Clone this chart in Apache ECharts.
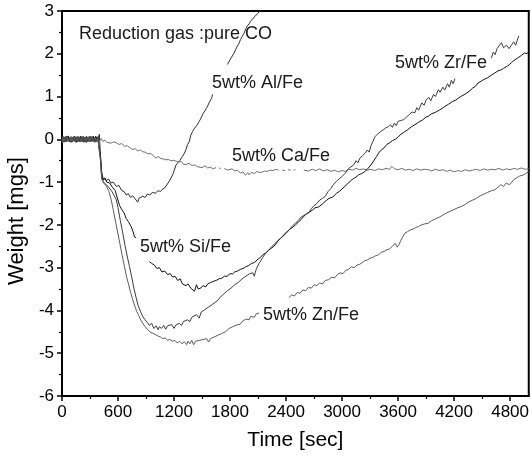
<!DOCTYPE html>
<html>
<head>
<meta charset="utf-8">
<script src="https://cdn.jsdelivr.net/npm/echarts@6/dist/echarts.min.js"></script>
<style>
  html, body { margin: 0; padding: 0; background: #fff; }
  #chart { width: 532px; height: 460px; }
</style>
</head>
<body>
<div id="chart"></div>
<script>
// Tick positions on the time axis (sec)
const xMajorTicks = [0, 600, 1200, 1800, 2400, 3000, 3600, 4200, 4800];
const xMinorTicks = [300, 900, 1500, 2100, 2700, 3300, 3900, 4500];

// Weight change [mgs] versus time [sec]; null marks a break in the trace
const alFe = [[0,0.01],[8,0.08],[15,-0.04],[22,0.03],[30,0.05],[37,-0.06],[45,-0.02],[52,0.07],[60,0.06],[67,-0.03],[75,-0.05],[82,0.04],[90,0.03],[97,-0.07],[105,-0.06],[112,0.05],[120,0.02],[127,-0.04],[135,0.07],[142,0.0],[150,-0.03],[157,0.06],[165,0.04],[172,-0.05],[180,-0.07],[187,0.03],[195,0.01],[202,-0.06],[210,0.05],[217,0.08],[225,-0.04],[232,0.02],[240,0.03],[247,-0.07],[255,-0.05],[262,0.04],[270,0.06],[277,-0.03],[285,-0.02],[292,0.07],[300,0.04],[307,-0.05],[315,-0.06],[322,0.05],[330,0.02],[337,-0.04],[345,0.05],[352,-0.07],[360,-0.03],[367,0.06],[375,0.06],[382,-0.04],[390,0.02],[400,0.12],[410,-0.3],[425,-0.75],[438,-0.9],[455,-0.88],[474,-0.96],[500,-0.93],[525,-1.02],[550,-1.0],[581,-1.1],[610,-1.08],[640,-1.2],[665,-1.22],[687,-1.3],[710,-1.27],[735,-1.36],[758,-1.32],[780,-1.38],[800,-1.36],[811,-1.47],[825,-1.38],[845,-1.4],[865,-1.33],[890,-1.36],[915,-1.28],[940,-1.3],[971,-1.24],[1000,-1.26],[1030,-1.2],[1055,-1.22],[1078,-1.16],[1100,-1.14],[1120,-1.1],[1149,-0.98],[1165,-1.0],[1185,-0.83],[1200,-0.74],[1221,-0.6],[1240,-0.56],[1260,-0.5],[1274,-0.51],[1290,-0.4],[1310,-0.33],[1328,-0.24],[1345,-0.12],[1365,-0.05],[1380,0.1],[1398,0.18],[1420,0.26],[1445,0.33],[1470,0.42],[1490,0.5],[1510,0.6],[1530,0.66],[1545,0.72],[1560,0.78],[1575,0.85],[1594,0.93],[1605,0.98],[1612,1.05],[1620,null],[1772,1.75],[1790,1.82],[1800,1.78],[1810,1.9],[1825,1.94],[1845,2.02],[1860,2.1],[1878,2.18],[1895,2.24],[1912,2.33],[1932,2.41],[1950,2.48],[1968,2.58],[1985,2.65],[2005,2.7],[2020,2.76],[2038,2.8],[2060,2.86],[2080,2.9],[2095,2.94],[2110,2.97],[2130,3.02],[2150,3.08]];

const caFe = [[0,-0.02],[8,-0.08],[15,0.04],[22,-0.03],[30,-0.05],[37,0.06],[45,0.03],[52,-0.06],[60,-0.01],[67,0.05],[75,0.06],[82,-0.04],[90,-0.04],[97,0.07],[105,0.02],[112,-0.05],[120,-0.06],[127,0.04],[135,0.05],[142,-0.07],[150,0.01],[157,0.06],[165,-0.05],[172,0.02],[180,0.04],[187,-0.06],[195,-0.02],[202,0.07],[210,0.06],[217,-0.03],[225,-0.04],[232,0.05],[240,0.02],[247,-0.06],[255,0.05],[262,0.01],[270,-0.06],[277,0.06],[285,0.03],[292,-0.05],[300,-0.02],[307,0.07],[315,0.05],[322,-0.04],[330,-0.04],[337,0.05],[345,0.02],[352,-0.07],[360,-0.05],[367,0.04],[375,0.04],[382,-0.03],[390,0.0],[405,-0.04],[420,0.02],[438,-0.05],[460,-0.02],[480,-0.07],[500,-0.04],[525,-0.09],[550,-0.06],[581,-0.08],[610,-0.12],[640,-0.1],[670,-0.16],[700,-0.15],[730,-0.2],[758,-0.24],[785,-0.22],[810,-0.27],[840,-0.25],[865,-0.29],[890,-0.3],[920,-0.34],[950,-0.33],[980,-0.39],[1007,-0.44],[1030,-0.4],[1060,-0.45],[1090,-0.46],[1114,-0.48],[1140,-0.47],[1165,-0.5],[1190,-0.49],[1221,-0.51],[1250,-0.53],[1280,-0.52],[1300,-0.58],[1328,-0.59],[1360,-0.56],[1390,-0.61],[1420,-0.6],[1450,-0.64],[1470,-0.63],[1500,-0.66],[1530,-0.62],[1560,-0.67],[1590,-0.65],[1620,-0.69],[1650,-0.66],[1660,null],[1680,-0.67],[1700,-0.68],[1710,null],[1740,-0.68],[1770,-0.72],[1790,-0.71],[1820,-0.69],[1850,-0.74],[1880,-0.72],[1910,-0.79],[1940,-0.76],[1965,-0.84],[1990,-0.78],[2003,-0.83],[2030,-0.77],[2060,-0.8],[2090,-0.75],[2120,-0.78],[2145,-0.76],[2170,-0.74],[2200,-0.75],[2230,-0.72],[2260,-0.73],[2290,-0.7],[2320,-0.72],[2330,null],[2360,-0.72],[2390,-0.73],[2400,null],[2420,-0.71],[2450,-0.72],[2460,null],[2480,-0.72],[2500,-0.71],[2510,null],[2590,-0.72],[2608,-0.71],[2640,-0.74],[2680,-0.7],[2720,-0.73],[2760,-0.69],[2800,-0.74],[2840,-0.71],[2880,-0.75],[2920,-0.72],[2960,-0.76],[3000,-0.73],[3035,-0.75],[3070,-0.7],[3110,-0.72],[3150,-0.68],[3190,-0.71],[3230,-0.69],[3270,-0.72],[3310,-0.7],[3350,-0.73],[3390,-0.69],[3430,-0.71],[3470,-0.68],[3510,-0.7],[3533,-0.63],[3560,-0.69],[3600,-0.71],[3640,-0.68],[3680,-0.72],[3720,-0.7],[3760,-0.73],[3800,-0.69],[3840,-0.72],[3880,-0.7],[3924,-0.71],[3960,-0.74],[4000,-0.7],[4040,-0.73],[4080,-0.71],[4120,-0.75],[4160,-0.72],[4200,-0.76],[4240,-0.73],[4280,-0.75],[4320,-0.71],[4360,-0.74],[4400,-0.72],[4440,-0.7],[4480,-0.73],[4520,-0.69],[4560,-0.72],[4600,-0.7],[4636,-0.71],[4680,-0.68],[4720,-0.72],[4760,-0.69],[4800,-0.71],[4840,-0.68],[4880,-0.7],[4920,-0.67],[4960,-0.7],[5000,-0.69]];

const siFe = [[0,0.03],[8,-0.06],[15,-0.05],[22,0.06],[30,0.02],[37,-0.04],[45,0.07],[52,-0.02],[60,-0.03],[67,0.08],[75,0.04],[82,-0.06],[90,-0.07],[97,0.03],[105,0.05],[112,-0.05],[120,0.0],[127,0.06],[135,-0.04],[142,0.04],[150,0.06],[157,-0.07],[165,-0.02],[172,0.05],[180,0.03],[187,-0.04],[195,-0.06],[202,0.07],[210,0.04],[217,-0.03],[225,0.07],[232,-0.06],[240,-0.03],[247,0.05],[255,0.02],[262,-0.07],[270,-0.05],[277,0.04],[285,0.05],[292,-0.03],[300,-0.01],[307,0.06],[315,0.06],[322,-0.05],[330,-0.04],[337,0.07],[345,0.03],[352,-0.04],[360,0.07],[367,-0.02],[375,-0.02],[382,0.06],[390,0.05],[402,0.08],[412,-0.4],[425,-0.85],[440,-0.95],[460,-0.9],[480,-1.0],[510,-1.02],[540,-1.12],[570,-1.2],[590,-1.35],[617,-1.55],[640,-1.64],[665,-1.72],[687,-1.85],[710,-1.92],[741,-2.04],[760,-2.15],[776,-2.28],[794,-2.3],[800,null],[936,-2.86],[960,-2.9],[990,-2.94],[1015,-3.02],[1043,-3.0],[1070,-3.1],[1100,-3.08],[1130,-3.16],[1160,-3.14],[1185,-3.22],[1210,-3.2],[1240,-3.3],[1265,-3.26],[1290,-3.38],[1310,-3.34],[1328,-3.42],[1350,-3.38],[1380,-3.48],[1400,-3.44],[1420,-3.55],[1440,-3.4],[1460,-3.5],[1470,-3.52],[1490,-3.47],[1510,-3.42],[1541,-3.45],[1560,-3.38],[1590,-3.35],[1620,-3.32],[1650,-3.3],[1683,-3.26],[1710,-3.25],[1740,-3.2],[1770,-3.2],[1800,-3.14],[1825,-3.15],[1850,-3.1],[1880,-3.08],[1910,-3.04],[1940,-3.02],[1968,-2.98],[2000,-2.95],[2030,-2.9],[2060,-2.88],[2090,-2.82],[2120,-2.77],[2150,-2.7],[2180,-2.66],[2210,-2.6],[2240,-2.55],[2270,-2.5],[2300,-2.42],[2323,-2.35],[2350,-2.3],[2380,-2.22],[2410,-2.16],[2440,-2.1],[2470,-2.06],[2501,-2.0],[2530,-1.94],[2560,-1.88],[2590,-1.8],[2620,-1.74],[2650,-1.7],[2680,-1.66],[2710,-1.6],[2750,-1.58],[2785,-1.52],[2820,-1.45],[2860,-1.38],[2900,-1.35],[2940,-1.26],[2970,-1.22],[2999,-1.16],[3030,-1.1],[3060,-1.04],[3090,-0.97],[3120,-0.92],[3150,-0.88],[3177,-0.83],[3210,-0.8],[3240,-0.76],[3270,-0.7],[3284,-0.74],[3310,-0.6],[3340,-0.5],[3370,-0.4],[3391,-0.32],[3420,-0.25],[3450,-0.2],[3480,-0.12],[3510,-0.08],[3540,-0.03],[3569,0.0],[3600,0.05],[3630,0.12],[3660,0.16],[3700,0.22],[3746,0.3],[3780,0.34],[3820,0.4],[3860,0.45],[3900,0.52],[3924,0.54],[3960,0.6],[4000,0.63],[4040,0.68],[4070,0.72],[4102,0.77],[4140,0.82],[4180,0.88],[4220,0.92],[4250,0.97],[4280,1.01],[4320,1.06],[4360,1.12],[4400,1.2],[4430,1.24],[4458,1.32],[4490,1.36],[4520,1.4],[4560,1.44],[4600,1.5],[4636,1.55],[4670,1.6],[4700,1.62],[4730,1.66],[4760,1.7],[4790,1.74],[4813,1.79],[4840,1.84],[4860,1.8],[4880,1.9],[4900,1.86],[4920,1.96],[4940,1.92],[4955,2.02],[4980,2.0],[5000,2.05]];

const zrFe = [[0,-0.03],[8,0.06],[15,0.05],[22,-0.07],[30,-0.06],[37,0.04],[45,0.01],[52,-0.05],[60,0.04],[67,0.07],[75,-0.05],[82,0.02],[90,0.06],[97,-0.06],[105,-0.02],[112,0.05],[120,0.03],[127,-0.04],[135,-0.07],[142,0.06],[150,0.05],[157,-0.03],[165,-0.01],[172,0.07],[180,0.06],[187,-0.05],[195,-0.04],[202,0.04],[210,0.02],[217,-0.06],[225,-0.06],[232,0.05],[240,0.05],[247,-0.04],[255,-0.03],[262,0.07],[270,0.04],[277,-0.06],[285,-0.07],[292,0.03],[300,0.03],[307,-0.05],[315,-0.02],[322,0.06],[330,0.06],[337,-0.03],[345,-0.05],[352,0.05],[360,0.02],[367,-0.06],[375,-0.04],[382,0.05],[390,0.06],[402,0.02],[412,-0.45],[425,-0.9],[445,-1.0],[470,-1.05],[500,-1.12],[530,-1.2],[560,-1.32],[581,-1.41],[600,-1.6],[625,-1.9],[651,-2.19],[675,-2.48],[700,-2.75],[723,-2.97],[745,-3.2],[770,-3.48],[794,-3.7],[815,-3.88],[840,-4.02],[865,-4.14],[890,-4.22],[915,-4.28],[936,-4.35],[960,-4.3],[985,-4.42],[1010,-4.36],[1030,-4.45],[1043,-4.38],[1065,-4.42],[1090,-4.35],[1110,-4.44],[1130,-4.36],[1150,-4.4],[1175,-4.33],[1200,-4.42],[1220,-4.34],[1240,-4.38],[1256,-4.3],[1280,-4.35],[1300,-4.26],[1320,-4.3],[1345,-4.22],[1370,-4.26],[1390,-4.16],[1410,-4.2],[1440,-4.1],[1470,-4.18],[1490,-4.04],[1510,-4.08],[1530,-3.98],[1550,-4.02],[1570,-3.92],[1590,-3.96],[1610,-3.86],[1630,-3.9],[1648,-3.8],[1670,-3.76],[1690,-3.7],[1710,-3.72],[1730,-3.62],[1750,-3.64],[1770,-3.54],[1790,-3.5],[1810,-3.48],[1830,-3.44],[1850,-3.4],[1870,-3.36],[1890,-3.34],[1910,-3.3],[1930,-3.26],[1950,-3.24],[1970,-3.2],[1990,-3.18],[2010,-3.14],[2030,-3.1],[2045,-3.12],[2060,-3.2],[2070,-3.12],[2080,-3.04],[2090,-3.0],[2110,-2.9],[2130,-2.84],[2150,-2.76],[2170,-2.7],[2190,-2.66],[2210,-2.6],[2230,-2.55],[2250,-2.5],[2270,-2.46],[2290,-2.42],[2310,-2.37],[2323,-2.35],[2360,-2.28],[2400,-2.2],[2440,-2.1],[2470,-2.02],[2501,-1.96],[2530,-1.9],[2560,-1.82],[2590,-1.78],[2620,-1.74],[2643,-1.72],[2670,-1.62],[2700,-1.55],[2730,-1.5],[2760,-1.42],[2790,-1.38],[2821,-1.33],[2850,-1.22],[2880,-1.15],[2910,-1.05],[2940,-0.98],[2970,-0.92],[2999,-0.87],[3030,-0.8],[3060,-0.72],[3080,-0.66],[3106,-0.63],[3130,-0.58],[3150,-0.5],[3170,-0.55],[3190,-0.44],[3220,-0.38],[3249,-0.32],[3270,-0.25],[3290,-0.3],[3310,-0.15],[3330,-0.05],[3355,0.07],[3380,0.12],[3410,0.18],[3440,0.22],[3470,0.27],[3497,0.3],[3520,0.34],[3540,0.28],[3560,0.38],[3580,0.32],[3600,0.42],[3630,0.44],[3660,0.46],[3690,0.52],[3720,0.58],[3750,0.64],[3780,0.62],[3800,0.74],[3820,0.68],[3853,0.85],[3880,0.8],[3900,0.92],[3930,0.98],[3950,0.9],[3980,1.05],[4000,1.0],[4031,1.16],[4050,1.1],[4080,1.22],[4100,1.15],[4130,1.3],[4150,1.22],[4170,1.38],[4190,1.3],[4209,1.42],[4220,null],[4600,1.9],[4620,2.04],[4640,1.98],[4660,2.12],[4680,2.08],[4707,2.26],[4730,2.14],[4760,2.2],[4790,2.12],[4813,2.2],[4840,2.28],[4860,2.2],[4885,2.37],[4895,2.42]];

const znFe = [[0,0.02],[8,-0.07],[15,-0.06],[22,0.05],[30,0.04],[37,-0.05],[45,-0.03],[52,0.06],[60,0.07],[67,-0.04],[75,-0.02],[82,0.05],[90,0.01],[97,-0.07],[105,0.06],[112,-0.03],[120,-0.05],[127,0.07],[135,0.03],[142,-0.06],[150,-0.06],[157,0.04],[165,0.05],[172,-0.05],[180,0.0],[187,0.06],[195,0.06],[202,-0.04],[210,-0.05],[217,0.05],[225,0.03],[232,-0.07],[240,-0.02],[247,0.06],[255,0.06],[262,-0.05],[270,-0.04],[277,0.04],[285,0.01],[292,-0.06],[300,0.05],[307,-0.03],[315,-0.05],[322,0.07],[330,0.04],[337,-0.06],[345,-0.02],[352,0.05],[360,0.05],[367,-0.04],[375,-0.06],[382,0.04],[390,0.03],[402,0.0],[412,-0.5],[425,-0.92],[445,-1.02],[470,-1.08],[500,-1.2],[527,-1.41],[550,-1.66],[575,-1.94],[598,-2.19],[620,-2.44],[645,-2.72],[669,-2.97],[690,-3.2],[712,-3.38],[735,-3.58],[758,-3.75],[780,-3.9],[800,-4.02],[822,-4.12],[843,-4.22],[865,-4.3],[890,-4.38],[915,-4.44],[940,-4.5],[965,-4.53],[990,-4.55],[1007,-4.57],[1030,-4.6],[1055,-4.62],[1080,-4.66],[1105,-4.64],[1130,-4.7],[1155,-4.68],[1185,-4.72],[1210,-4.7],[1235,-4.76],[1260,-4.72],[1285,-4.78],[1310,-4.73],[1335,-4.8],[1350,-4.72],[1370,-4.78],[1390,-4.7],[1410,-4.8],[1430,-4.72],[1450,-4.76],[1470,-4.7],[1490,-4.74],[1510,-4.68],[1530,-4.72],[1550,-4.66],[1570,-4.74],[1590,-4.66],[1610,-4.68],[1630,-4.62],[1650,-4.64],[1670,-4.58],[1690,-4.6],[1710,-4.54],[1730,-4.56],[1750,-4.5],[1770,-4.46],[1790,-4.42],[1810,-4.44],[1830,-4.38],[1850,-4.4],[1870,-4.34],[1890,-4.3],[1910,-4.32],[1930,-4.26],[1950,-4.28],[1970,-4.2],[1990,-4.16],[2005,-4.22],[2020,-4.14],[2040,-4.1],[2060,-4.16],[2080,-4.08],[2100,-4.12],[2110,-4.06],[2120,null],[2430,-3.7],[2460,-3.64],[2490,-3.66],[2520,-3.58],[2550,-3.6],[2580,-3.52],[2610,-3.54],[2640,-3.46],[2670,-3.48],[2700,-3.4],[2730,-3.42],[2760,-3.36],[2790,-3.38],[2820,-3.3],[2857,-3.28],[2890,-3.22],[2920,-3.24],[2950,-3.16],[2980,-3.12],[3010,-3.14],[3040,-3.06],[3070,-3.04],[3100,-2.98],[3130,-3.0],[3160,-2.94],[3190,-2.92],[3212,-2.89],[3240,-2.84],[3270,-2.82],[3300,-2.78],[3330,-2.76],[3360,-2.72],[3390,-2.7],[3420,-2.64],[3450,-2.62],[3480,-2.58],[3510,-2.56],[3540,-2.5],[3569,-2.43],[3590,-2.52],[3610,-2.46],[3630,-2.36],[3650,-2.28],[3675,-2.19],[3700,-2.16],[3730,-2.12],[3760,-2.1],[3790,-2.06],[3820,-2.04],[3850,-2.0],[3880,-1.98],[3924,-1.96],[3960,-1.9],[4000,-1.86],[4040,-1.82],[4080,-1.77],[4120,-1.72],[4160,-1.68],[4200,-1.64],[4240,-1.6],[4280,-1.57],[4320,-1.52],[4360,-1.46],[4400,-1.42],[4440,-1.38],[4480,-1.32],[4520,-1.28],[4560,-1.24],[4600,-1.2],[4636,-1.18],[4670,-1.12],[4700,-1.06],[4730,-1.1],[4760,-1.02],[4790,-1.06],[4813,-1.02],[4840,-0.94],[4870,-0.9],[4900,-0.86],[4930,-0.84],[4955,-0.82],[4980,-0.78],[5000,-0.76]];

const FONT = "'Liberation Sans', Arial, sans-serif";

function trace(name, data, color) {
  return {
    name: name,
    type: 'line',
    data: data,
    showSymbol: false,
    symbol: 'none',
    connectNulls: false,
    clip: true,
    lineStyle: { color: color, width: 1 },
    emphasis: { disabled: true },
    z: 3
  };
}

function note(text, x, y) {
  return {
    type: 'text',
    x: x,
    y: y,
    style: {
      text: text,
      fontFamily: FONT,
      fontSize: 18,
      fill: '#1a1a1a',
      align: 'left',
      verticalAlign: 'middle'
    },
    z: 10
  };
}

const plainNumber = function (v) { return String(v); };

const chart = echarts.init(document.getElementById('chart'), null, { renderer: 'canvas' });

chart.setOption({
  animation: false,
  backgroundColor: '#ffffff',
  grid: {
    left: 62, top: 11, right: 3, bottom: 64,
    show: true, borderColor: '#000', borderWidth: 2,
    backgroundColor: 'transparent'
  },
  xAxis: [
    {
      type: 'value', min: 0, max: 5000, interval: 600, position: 'bottom',
      axisLine: { show: true, onZero: false, lineStyle: { color: '#000', width: 2 } },
      axisTick: { show: true, customValues: xMajorTicks, length: 5, lineStyle: { color: '#000', width: 1.5 } },
      axisLabel: { customValues: xMajorTicks, formatter: plainNumber, color: '#000', fontSize: 17, fontFamily: FONT, margin: 8 },
      splitLine: { show: false },
      name: 'Time [sec]', nameLocation: 'middle', nameGap: 34,
      nameTextStyle: { color: '#000', fontSize: 21, fontFamily: FONT }
    },
    {
      type: 'value', min: 0, max: 5000, position: 'bottom',
      axisLine: { show: false, onZero: false },
      axisTick: { show: true, customValues: xMinorTicks, length: 3, lineStyle: { color: '#000', width: 1.2 } },
      axisLabel: { show: false },
      splitLine: { show: false }
    }
  ],
  yAxis: {
    type: 'value', min: -6, max: 3, interval: 1,
    axisLine: { show: true, onZero: false, lineStyle: { color: '#000', width: 2 } },
    axisTick: { show: true, length: 5, lineStyle: { color: '#000', width: 1.5 } },
    minorTick: { show: true, splitNumber: 2, length: 3, lineStyle: { color: '#000', width: 1.2 } },
    axisLabel: { formatter: plainNumber, color: '#000', fontSize: 17, fontFamily: FONT, margin: 8 },
    splitLine: { show: false }
  },
  series: [
    trace('5wt% Al/Fe', alFe, '#2e2e2e'),
    trace('5wt% Ca/Fe', caFe, '#707070'),
    trace('5wt% Si/Fe', siFe, '#111111'),
    trace('5wt% Zr/Fe', zrFe, '#3c3c3c'),
    trace('5wt% Zn/Fe', znFe, '#5c5c5c')
  ],
  graphic: [
    {
      type: 'text', x: 17, y: 221, rotation: Math.PI / 2,
      style: { text: 'Weight [mgs]', fontFamily: FONT, fontSize: 22, fill: '#000', align: 'center', verticalAlign: 'middle' }
    },
    note('Reduction gas :pure CO', 79, 34),
    note('5wt% Al/Fe', 212, 83),
    note('5wt% Zr/Fe', 395, 63),
    note('5wt% Ca/Fe', 232, 156),
    note('5wt% Si/Fe', 140, 247),
    note('5wt% Zn/Fe', 263, 315)
  ]
});
</script>
</body>
</html>
